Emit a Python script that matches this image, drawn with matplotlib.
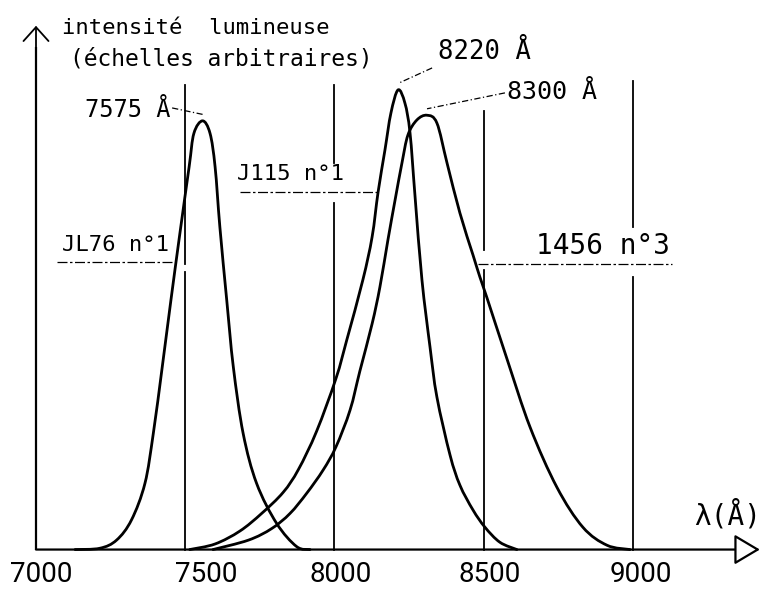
import matplotlib
matplotlib.use("Agg")
import matplotlib.pyplot as plt
import numpy as np
from matplotlib.path import Path
from matplotlib.patches import PathPatch

# ---------------- data ----------------
# wavelength in Angstrom, intensity in arbitrary units
JL76_WL = [7131, 7214, 7270, 7320, 7365, 7393, 7423, 7452, 7482, 7513, 7529, 7558,
           7583, 7600, 7616, 7639, 7661, 7694, 7739, 7806, 7873, 7918]
JL76_I = [0, 0.3, 2.2, 6.9, 15.4, 27, 42.5, 58, 73.5, 89, 96.8, 99.7,
          96.8, 89, 75, 58, 42.5, 27, 15.4, 6.1, 0.7, 0]

J115_WL = [7515, 7600, 7683, 7756, 7828, 7879, 7940, 8005, 8041, 8095, 8126, 8146,
           8169, 8189, 8213, 8236, 8253, 8270, 8293, 8320, 8343, 8387, 8420, 8464,
           8504, 8554, 8611]
J115_I = [0, 1.3, 4.3, 8.4, 13.3, 18.6, 27.5, 39.8, 48.7, 62.7, 72.7, 83.1,
          92.9, 101.5, 106.9, 103.8, 96.9, 82, 62.7, 47.1, 35.5, 22, 15, 9.2,
          5.2, 1.7, 0]

N1456_WL = [7593, 7712, 7790, 7851, 7907, 7962, 8005, 8052, 8085, 8126, 8152, 8179,
            8203, 8226, 8246, 8276, 8310, 8343, 8377, 8420, 8464, 8487, 8511, 8578,
            8655, 8745, 8832, 8913, 8990]
N1456_I = [0, 2.2, 4.9, 8.4, 13.1, 18.5, 23.9, 32.4, 41.5, 52.5, 61, 72,
           81.3, 89.9, 96.4, 99.9, 101, 99.2, 89.9, 78.3, 68.5, 63.4, 58.5, 44.3,
           28.5, 14.5, 5.2, 1.0, 0]

CURVE_NAMES = ["JL76 n°1", "J115 n°1", "1456 n°3"]
PEAK_LABELS = ["7575 Å", "8220 Å", "8300 Å"]
PEAK_WL = [7558, 8213, 8310]
PEAK_I = [99.7, 106.9, 101]

# vertical reference lines (wavelength, top, gap bottom, gap top)
VLINE_WL = [7500, 8000, 8500, 9000]
VLINE_TOP = [108, 108, 102, 109]
VLINE_GAP_LO = [64.5, 80.6, 65.0, 63.4]
VLINE_GAP_HI = [66.5, 89.8, 69.7, 75.0]

# label leader lines for filters (y level, x start, x end)
LEAD_Y = [66.9, 83.1, 66.4]
LEAD_X0 = [7070, 7683, 8481]
LEAD_X1 = [7470, 8146, 9131]

XTICKS = [7000, 7500, 8000, 8500, 9000]
XTICK_LABELS = ["7000", "7500", "8000", "8500", "9000"]

Y_TITLE_1 = "intensité  lumineuse"
Y_TITLE_2 = "(échelles arbitraires)"
X_TITLE = "λ(Å)"

# ---------------- figure ----------------
W, H = 772, 599
fig = plt.figure(figsize=(W / 100, H / 100), dpi=100)
ax = fig.add_axes([0, 0, 1, 1])
ax.set_xlim(6879.4, 9465.7)
ax.set_ylim(-11.5, 127.8)
ax.axis("off")

MONO = ["DejaVu Sans Mono", "DejaVu Sans"]
TICKFONT = ["Roboto", "DejaVu Sans"]


def smooth_curve(xs, ys, **kw):
    pts = np.column_stack([xs, ys]).astype(float)
    n = len(pts)
    verts = [tuple(pts[0])]
    codes = [Path.MOVETO]
    for i in range(n - 1):
        p0 = pts[i - 1] if i > 0 else pts[i]
        p1 = pts[i]
        p2 = pts[i + 1]
        p3 = pts[i + 2] if i + 2 < n else pts[i + 1]
        c1 = p1 + (p2 - p0) / 6.0
        c2 = p2 - (p3 - p1) / 6.0
        verts += [tuple(c1), tuple(c2), tuple(p2)]
        codes += [Path.CURVE4] * 3
    patch = PathPatch(Path(verts, codes), fill=False, **kw)
    ax.add_patch(patch)


for wl, inten in [(JL76_WL, JL76_I), (J115_WL, J115_I), (N1456_WL, N1456_I)]:
    smooth_curve(wl, inten, lw=2.0, ec="black", capstyle="round", joinstyle="round")

# axes
ax.annotate("", xy=(9425, 0), xytext=(7000, 0),
            arrowprops=dict(arrowstyle="-|>,head_length=1.6,head_width=0.95",
                            mutation_scale=10, fc="white", ec="black", lw=1.6,
                            shrinkA=0, shrinkB=0))
ax.plot([7000, 7000], [0, 116.9], color="black", lw=1.6, solid_capstyle="butt")
ax.annotate("", xy=(7000, 121.8), xytext=(7000, 116.0),
            arrowprops=dict(arrowstyle="->,head_length=1.0,head_width=0.9",
                            mutation_scale=10, ec="black", lw=1.3,
                            shrinkA=0, shrinkB=0))

# vertical reference lines with gaps
for x, top, glo, ghi in zip(VLINE_WL, VLINE_TOP, VLINE_GAP_LO, VLINE_GAP_HI):
    ax.plot([x, x], [0, glo], color="black", lw=1.3)
    ax.plot([x, x], [ghi, top], color="black", lw=1.3)

# filter labels + leader lines
label_pos = [(7268, 70.8, 16), (7851, 87.4, 16), (8901, 70.6, 20)]
for name, (lx, ly, fs), y, x0, x1 in zip(CURVE_NAMES, label_pos, LEAD_Y, LEAD_X0, LEAD_X1):
    ax.plot([x0, x1], [y, y], color="black", lw=0.9, ls=(0, (8, 2, 2, 2)))
    ax.text(lx, ly, name, family=MONO, fontsize=fs, ha="center", va="center")

# peak labels + dash-dot leaders
peak_text_pos = [(7306, 102.3, 17), (8504, 115.6, 18.5), (8730, 106.4, 18)]
peak_lead_start = [(7456, 102.7), (8327, 112.0), (8571, 106.2)]
for lab, (tx, ty, fs), (sx, sy), px, py in zip(PEAK_LABELS, peak_text_pos,
                                               peak_lead_start, PEAK_WL, PEAK_I):
    ax.plot([sx, px], [sy, py + 1.5], color="black", lw=0.9, ls=(0, (5, 2, 1, 2)))
    ax.text(tx, ty, lab, family=MONO, fontsize=fs, ha="center", va="center")

# titles
ax.text(7087, 121.3, Y_TITLE_1, family=MONO, fontsize=16, ha="left", va="center")
ax.text(7114, 114.0, Y_TITLE_2, family=MONO, fontsize=16.5, ha="left", va="center")
ax.text(9318, 8.0, X_TITLE, family=MONO, fontsize=20, ha="center", va="center")

# tick labels
tick_shift = [17, 70, 22, 21, 27]
for t, lab, s in zip(XTICKS, XTICK_LABELS, tick_shift):
    ax.text(t + s, -5.7, lab, family=TICKFONT, fontsize=20,
            ha="center", va="center")

fig.savefig("out.png", dpi=100)
